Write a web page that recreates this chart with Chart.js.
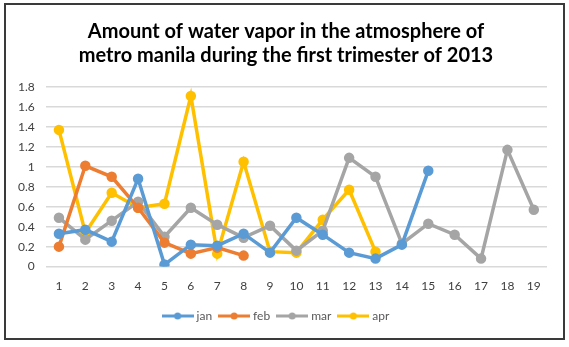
<!DOCTYPE html>
<html>
<head>
<meta charset="utf-8">
<script src="https://cdn.jsdelivr.net/npm/chart.js@4/dist/chart.umd.min.js"></script>
<style>
  html, body { margin: 0; padding: 0; background: #fff; }
  #frame {
    position: absolute; left: 4px; top: 3px;
    width: 557px; height: 333px;
    border: 2px solid #3a3a3a;
  }
  #wrap { position: absolute; left: 0; top: 0; width: 557px; height: 333px; }
</style>
</head>
<body>
<div id="frame"><div id="wrap"><canvas id="chart"></canvas></div></div>
<script>
  // days of the month (x categories)
  const days = ['1','2','3','4','5','6','7','8','9','10','11','12','13','14','15','16','17','18','19'];

  // water vapor per month
  const jan = [0.33, 0.37, 0.25, 0.88, 0.02, 0.22, 0.21, 0.33, 0.14, 0.49, 0.32, 0.14, 0.08, 0.22, 0.96];
  const feb = [0.20, 1.01, 0.90, 0.59, 0.24, 0.13, 0.19, 0.11];
  const mar = [0.49, 0.27, 0.46, 0.65, 0.30, 0.59, 0.42, 0.29, 0.41, 0.16, 0.36, 1.09, 0.90, 0.23, 0.43, 0.32, 0.08, 1.17, 0.57];
  const apr = [1.37, 0.34, 0.74, 0.59, 0.63, 1.71, 0.13, 1.05, 0.15, 0.14, 0.47, 0.77, 0.15];

  const titleLines = ['Amount of water vapor in the atmosphere of', 'metro manila during the first trimester of 2013'];

  const fontFamily = "Lato, 'Open Sans', sans-serif";

  // legend marker: short line with a dot in the middle, like excel
  function legendMarker(color) {
    let c = document.createElement('canvas');
    c.width = 32; c.height = 8;
    let g = c.getContext('2d');
    g.strokeStyle = color; g.lineWidth = 3;
    g.beginPath(); g.moveTo(0, 4); g.lineTo(32, 4); g.stroke();
    g.fillStyle = color;
    g.beginPath(); g.arc(16, 4, 3.5, 0, Math.PI * 2); g.fill();
    return c;
  }

  function series(label, data, color) {
    return {
      label: label,
      data: data,
      borderColor: color,
      backgroundColor: color,
      pointBackgroundColor: color,
      pointBorderColor: color,
      borderWidth: 3.5,
      pointRadius: 3.5,
      pointStyle: 'circle',
      tension: 0
    };
  }

  // the title in the picture is centred on the whole frame, not on the padded area
  const shiftTitle = {
    id: 'shiftTitle',
    afterLayout(chart) {
      if (chart.titleBlock) chart.titleBlock.left += 18;
    }
  };

  let ctx = document.getElementById('chart').getContext('2d');

  let waterChart = new Chart(ctx, {
    type: 'line',
    data: {
      labels: days,
      datasets: [
        series('jan', jan, '#5B9BD5'),
        series('feb', feb, '#ED7D31'),
        series('mar', mar, '#A5A5A5'),
        series('apr', apr, '#FFC000')
      ]
    },
    options: {
      responsive: true,
      maintainAspectRatio: false,
      animation: false,
      layout: { padding: { left: 1, right: 16, top: 0, bottom: 6 } },
      plugins: {
        title: {
          display: true,
          text: titleLines,
          color: '#000',
          font: { family: fontFamily, size: 20, weight: 'bold', lineHeight: 1.2 },
          padding: { top: 15, bottom: 19 }
        },
        legend: {
          position: 'bottom',
          labels: {
            usePointStyle: true,
            pointStyleWidth: 26,
            boxHeight: 8,
            color: '#595959',
            font: { family: fontFamily, size: 12 },
            padding: 9,
            generateLabels: chart => {
              let items = Chart.defaults.plugins.legend.labels.generateLabels(chart);
              items.forEach(it => {
                it.pointStyle = legendMarker(chart.data.datasets[it.datasetIndex].borderColor);
              });
              return items;
            }
          }
        },
        tooltip: { enabled: false }
      },
      scales: {
        x: {
          offset: true,
          grid: { display: false },
          border: { display: false },
          ticks: { color: '#404040', font: { family: fontFamily, size: 12 }, maxRotation: 0, padding: 4 },
          afterFit: axis => { axis.height += 4; }
        },
        y: {
          min: 0,
          max: 1.8,
          grid: { color: '#d9d9d9', lineWidth: 1.5, drawTicks: false },
          border: { display: false },
          ticks: {
            stepSize: 0.2,
            color: '#404040',
            font: { family: fontFamily, size: 12 },
            padding: 11,
            callback: v => +v.toFixed(1)
          }
        }
      }
    },
    plugins: [shiftTitle]
  });
</script>
</body>
</html>
